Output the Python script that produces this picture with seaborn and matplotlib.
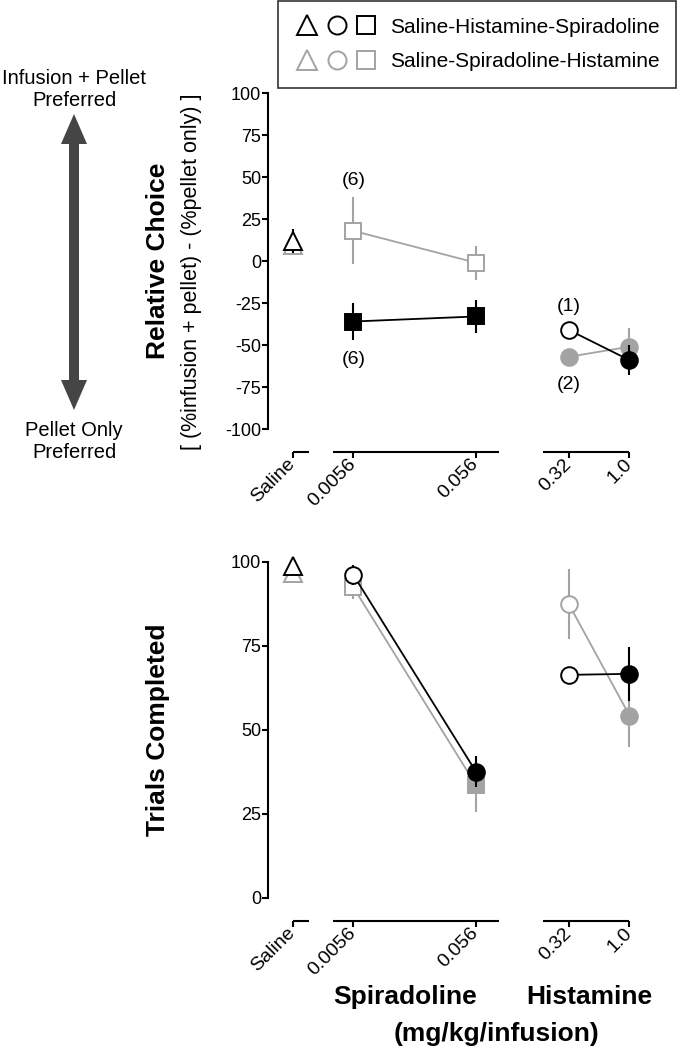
import numpy as np
import pandas as pd
import matplotlib
matplotlib.use('Agg')
import matplotlib.pyplot as plt
import seaborn as sns
from matplotlib.lines import Line2D
from matplotlib.legend_handler import HandlerTuple
from matplotlib.patches import FancyArrow

# --- DADOS ---
GRUPOS = ['Saline-Histamine-Spiradoline', 'Saline-Spiradoline-Histamine']
ROTULOS_X = ['Saline', '0.0056', '0.056', '0.32', '1.0']
DROGA = ['Saline', 'Spiradoline', 'Spiradoline', 'Histamine', 'Histamine']
DOSES = [np.nan, 0.0056, 0.056, 0.32, 1.0]  # mg/kg/infusion

# Escolha relativa (média, EPM)
escolha_shs = [12, -36, -33, -41, -59]
escolha_shs_epm = [7, 11, 10, 0, 9]
escolha_ssh = [9.5, 18, -1, -57, -51]
escolha_ssh_epm = [0, 20, 10, 0, 11]

# Tentativas completadas (média, EPM)
trials_shs = [98.8, 96.2, 37.6, 66.4, 66.7]
trials_shs_epm = [0, 3, 4.7, 0, 8]
trials_ssh = [96.7, 92.5, 33.6, 87.5, 54.3]
trials_ssh_epm = [0, 3.5, 8, 10.5, 9.5]

# n por condição (painel superior)
n_rotulos = ['(6)', '(6)', '(1)', '(2)']

# --- ESTILO ---
PRETO = 'black'
CINZA = '#a3a3a3'
SALINE_POS = 0.0018  # saline fica à esquerda no eixo log
POS_X = [SALINE_POS if np.isnan(d) else d for d in DOSES]
MS = {'^': 13, 's': 11.5, 'o': 12}

mk_escolha_shs, cheio_escolha_shs = ['^', 's', 's', 'o', 'o'], [0, 1, 1, 0, 1]
mk_escolha_ssh, cheio_escolha_ssh = ['^', 's', 's', 'o', 'o'], [0, 0, 0, 1, 1]
mk_trials_shs, cheio_trials_shs = ['^', 'o', 'o', 'o', 'o'], [0, 0, 1, 0, 1]
mk_trials_ssh, cheio_trials_ssh = ['^', 's', 's', 'o', 'o'], [0, 0, 1, 0, 1]

sns.set_style('ticks')
plt.rcParams['font.family'] = ['Liberation Sans', 'DejaVu Sans']
plt.rcParams.update({
    'axes.linewidth': 1.5,
    'axes.edgecolor': 'black',
    'text.color': 'black',
    'axes.labelcolor': 'black',
    'xtick.color': 'black',
    'ytick.color': 'black',
    'axes.unicode_minus': False,
})


def desenha_series(ax, series):
    for medias, epm, cor, mks, cheios, z in series:
        df = pd.DataFrame({'x': POS_X, 'y': medias, 'droga': DROGA})
        df = df[df['droga'] != 'Saline']
        sns.lineplot(data=df, x='x', y='y', units='droga', estimator=None, sort=False,
                     color=cor, lw=1.3, zorder=z, ax=ax, legend=False)
        ax.errorbar(POS_X, medias, yerr=epm, fmt='none', ecolor=cor,
                    elinewidth=1.5, capsize=0, zorder=z + 1, clip_on=False)
        for x, y, mk, ch in zip(POS_X, medias, mks, cheios):
            ax.plot(x, y, marker=mk, ms=MS[mk], mfc=cor if ch else 'white', mec=cor,
                    mew=1.4, ls='none', zorder=z + 2, clip_on=False)


def formata_eixo(ax, ylim, yticks):
    ax.set_xscale('log')
    ax.set_xlim(0.00113, 2.1)
    ax.set_ylim(*ylim)
    ax.set_yticks(yticks)
    ax.set_xlabel('')
    ax.set_ylabel('')
    ax.spines[['top', 'right']].set_visible(False)
    ax.spines['left'].set_bounds(*ylim)
    ax.spines['bottom'].set_position(('outward', 16.5))
    ax.spines['bottom'].set_visible(False)
    ax.set_xticks(POS_X)
    ax.xaxis.set_minor_locator(plt.NullLocator())
    ax.set_xticklabels(ROTULOS_X, rotation=45, ha='right', va='center',
                       rotation_mode='anchor')
    ax.tick_params(axis='x', width=1.5, length=4, labelsize=14, pad=3)
    ax.tick_params(axis='y', width=1.5, length=4, labelsize=13, pad=1)
    # eixo x quebrado em três segmentos
    tr = ax.get_xaxis_transform(which='tick1')
    segs = [(SALINE_POS, SALINE_POS * 1.35), (0.0056 / 1.45, 0.056 * 1.54), (0.32 / 1.63, 1.0)]
    for x0, x1 in segs:
        ax.plot([x0, x1], [0, 0], transform=tr, color=PRETO, lw=1.5,
                solid_capstyle='butt', clip_on=False)


fig = plt.figure(figsize=(6.8, 10.5), dpi=100)
ax1 = fig.add_axes([0.3941, 0.5914, 0.5897, 0.32])
ax2 = fig.add_axes([0.3941, 0.1448, 0.5897, 0.32])

# --- PAINEL SUPERIOR: escolha relativa ---
ax1.set_xscale('log')
ax1.plot([0.00125, max(DOSES)], [0, 0], color=PRETO, ls=(0, (1, 2)), lw=1.2, zorder=1)
desenha_series(ax1, [
    (escolha_ssh, escolha_ssh_epm, CINZA, mk_escolha_ssh, cheio_escolha_ssh, 2),
    (escolha_shs, escolha_shs_epm, PRETO, mk_escolha_shs, cheio_escolha_shs, 5),
])
formata_eixo(ax1, (-100, 100), range(-100, 101, 25))

# rótulos de n
for (serie, i, dy), txt in zip([(escolha_ssh, 1, 36), (escolha_shs, 1, -27),
                                 (escolha_shs, 3, 17), (escolha_ssh, 3, -20)], n_rotulos):
    ax1.annotate(txt, (POS_X[i], serie[i]), xytext=(0, dy), textcoords='offset points',
                 ha='center', va='center', fontsize=14)

# --- PAINEL INFERIOR: tentativas completadas ---
ax2.set_xscale('log')
desenha_series(ax2, [
    (trials_ssh, trials_ssh_epm, CINZA, mk_trials_ssh, cheio_trials_ssh, 2),
    (trials_shs, trials_shs_epm, PRETO, mk_trials_shs, cheio_trials_shs, 5),
])
formata_eixo(ax2, (0, 100), range(0, 101, 25))

# --- RÓTULOS DOS EIXOS ---
fig.text(158 / 680, 1 - 261 / 1050, 'Relative Choice', rotation=90, ha='center',
         va='center', fontsize=19, fontweight='bold')
fig.text(192 / 680, 1 - 272 / 1050, '[ (%infusion + pellet) - (%pellet only) ]',
         rotation=90, ha='center', va='center', fontsize=15.5)
fig.text(158 / 680, 1 - 730 / 1050, 'Trials Completed', rotation=90, ha='center',
         va='center', fontsize=19, fontweight='bold')
fig.text(405 / 680, 1 - 997 / 1050, 'Spiradoline', ha='center', va='center',
         fontsize=19, fontweight='bold')
fig.text(589 / 680, 1 - 997 / 1050, 'Histamine', ha='center', va='center',
         fontsize=19, fontweight='bold')
fig.text(497 / 680, 1 - 1034 / 1050, '(mg/kg/infusion)', ha='center', va='center',
         fontsize=19, fontweight='bold')

# --- SETA DUPLA À ESQUERDA ---
xc, yc, meia = 74 / 680, 1 - 262 / 1050, 148 / 1050
for sinal in (1, -1):
    fig.add_artist(FancyArrow(xc, yc, 0, sinal * meia, width=10 / 680, head_width=26 / 680,
                              head_length=30 / 1050, length_includes_head=True,
                              color='#454545', lw=0, transform=fig.transFigure))
fig.text(xc, 1 - 90 / 1050, 'Infusion + Pellet\nPreferred', ha='center', va='center',
         fontsize=14.5)
fig.text(xc, 1 - 442 / 1050, 'Pellet Only\nPreferred', ha='center', va='center',
         fontsize=14.5)

# --- LEGENDA ---
def simbolos(cor):
    return tuple(Line2D([], [], ls='none', marker=m, ms=MS[m] + 1, mfc='white', mec=cor, mew=1.4)
                 for m in ['^', 'o', 's'])

leg = fig.legend([simbolos(PRETO), simbolos(CINZA)], GRUPOS, loc='upper right',
                 bbox_to_anchor=(676 / 680, 1 - 1 / 1050), frameon=True, fancybox=False,
                 edgecolor='black', fontsize=15, handlelength=4.0, handletextpad=0.55,
                 labelspacing=0.75, borderpad=0.8, borderaxespad=0,
                 handler_map={tuple: HandlerTuple(ndivide=None, pad=0.25)})
leg.get_frame().set_linewidth(1.2)

fig.savefig('out.png', dpi=100)
